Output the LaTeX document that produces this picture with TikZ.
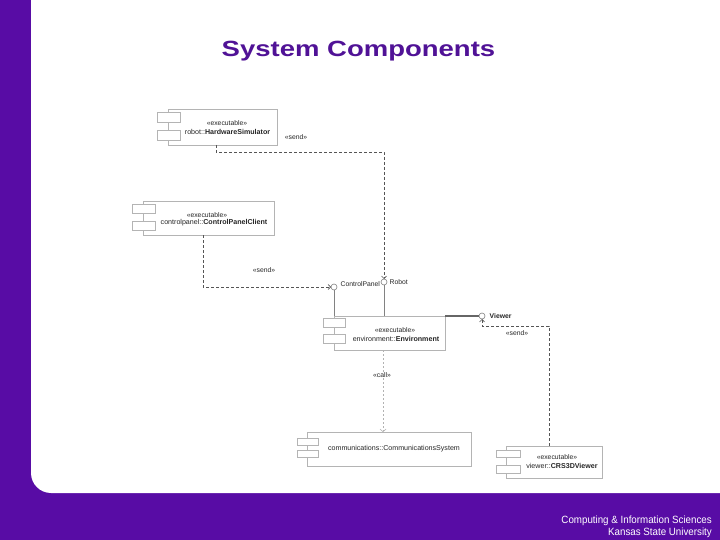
\documentclass[tikz,border=0pt]{standalone}
\usepackage{fontspec}
\setmainfont{Liberation Sans}
\usetikzlibrary{arrows.meta}
\definecolor{kpurple}{RGB}{88,12,165}
\definecolor{ktitle}{RGB}{80,18,150}
\definecolor{boxgray}{RGB}{180,180,180}
\definecolor{dashgray}{RGB}{85,85,85}
\definecolor{stickgray}{RGB}{130,130,130}
\begin{document}
\begin{tikzpicture}[x=1pt,y=-1pt,
  compbody/.style={draw=boxgray,line width=0.6pt,inner sep=0pt,outer sep=0pt,anchor=north west},
  comptab/.style={draw=boxgray,fill=white,line width=0.6pt,inner sep=0pt,outer sep=0pt,anchor=north west},
  stereo/.style={font=\fontsize{6.8}{7}\selectfont,text=black!85,inner sep=0pt},
  cname/.style={font=\fontsize{7.1}{7}\selectfont,text=black!85,inner sep=0pt},
  lbl/.style={font=\fontsize{6.8}{7}\selectfont,text=black!85,inner sep=0.5pt},
  iface/.style={circle,draw=stickgray,fill=white,line width=0.6pt,minimum size=6pt,inner sep=0pt,outer sep=0pt},
  stick/.style={draw=stickgray,line width=0.7pt},
  dep/.style={draw=dashgray,line width=0.6pt,dash pattern=on 3pt off 2pt,-{Straight Barb[length=2.5pt,width=5pt]}},
  calldep/.style={draw=black!30,line width=0.6pt,dash pattern=on 2pt off 2pt,-{Straight Barb[length=2.5pt,width=6pt]}},
  titlestyle/.style={font=\fontsize{22}{26}\selectfont\bfseries,text=ktitle,inner sep=0pt,anchor=base},
  footstyle/.style={font=\fontsize{10.5}{12}\selectfont,text=white,inner sep=0pt,anchor=base east}
]
\useasboundingbox (0,0) rectangle (720,540);
% background frame
\fill[kpurple] (0,0) rectangle (720,540);
\fill[white] (720,0) -- (31,0) -- (31,473) .. controls (31,484) and (40,493) .. (51,493) -- (720,493) -- cycle;

% title and footer
\node[titlestyle] (title) at (358.5,57) {\scalebox{1.25}[1]{System Components}};
\node[footstyle] (foot1) at (712,523) {\scalebox{0.93}[1]{Computing \& Information Sciences}};
\node[footstyle] (foot2) at (712,535) {\scalebox{0.93}[1]{Kansas State University}};

% robot::HardwareSimulator
\node[compbody,minimum width=109pt,minimum height=36pt] (hw) at (168,109) {};
\node[comptab,minimum width=23pt,minimum height=10pt] (hwt1) at (157,112) {};
\node[comptab,minimum width=23pt,minimum height=10pt] (hwt2) at (157,130) {};
\node[stereo] (hwst) at (227,123) {«executable»};
\node[cname] (hwnm) at (227.5,132) {robot::\textbf{HardwareSimulator}};

% controlpanel::ControlPanelClient
\node[compbody,minimum width=131pt,minimum height=34pt] (cp) at (143,201) {};
\node[comptab,minimum width=23pt,minimum height=9pt] (cpt1) at (132,204) {};
\node[comptab,minimum width=23pt,minimum height=9pt] (cpt2) at (132,221) {};
\node[stereo] (cpst) at (207,215) {«executable»};
\node[cname] (cpnm) at (214,223) {controlpanel::\textbf{ControlPanelClient}};

% environment::Environment
\node[compbody,minimum width=111pt,minimum height=34pt] (env) at (334,316) {};
\node[comptab,minimum width=22pt,minimum height=9pt] (envt1) at (323,318) {};
\node[comptab,minimum width=22pt,minimum height=9pt] (envt2) at (323,334) {};
\node[stereo] (envst) at (395,330) {«executable»};
\node[cname] (envnm) at (396,339) {environment::\textbf{Environment}};

% communications::CommunicationsSystem
\node[compbody,minimum width=164pt,minimum height=34pt] (comm) at (307,432) {};
\node[comptab,minimum width=21pt,minimum height=7pt] (commt1) at (297,438) {};
\node[comptab,minimum width=21pt,minimum height=7pt] (commt2) at (297,450) {};
\node[cname] (commnm) at (394,449) {communications::CommunicationsSystem};

% viewer::CRS3DViewer
\node[compbody,minimum width=96pt,minimum height=32pt] (view) at (506,446) {};
\node[comptab,minimum width=24pt,minimum height=7pt] (viewt1) at (496,450) {};
\node[comptab,minimum width=24pt,minimum height=8pt] (viewt2) at (496,465) {};
\node[stereo] (viewst) at (557,457) {«executable»};
\node[cname] (viewnm) at (562,466) {viewer::\textbf{CRS3DViewer}};

% interfaces
\node[iface] (ifcp) at (334,287) {};
\node[iface] (ifrobot) at (384,282) {};
\node[iface] (ifview) at (482,316) {};
\draw[stick] (ifcp.south) -- (ifcp.south |- env.north);
\draw[stick] (ifrobot.south) -- (ifrobot.south |- env.north);
\draw[draw=black!60,line width=1.1pt] (env.north east) -- (ifview.west);
\node[lbl,anchor=west] (lcp) at (340,284) {ControlPanel};
\node[lbl,anchor=west] (lrobot) at (389,282) {Robot};
\node[lbl,anchor=west] (lview) at (489,316) {\textbf{Viewer}};

% dependencies
\coordinate (hwout) at (216,145);
\coordinate (hwbend) at (216,152);
\draw[dep] (hwout) -- (hwbend) -- (hwbend -| ifrobot) -- (ifrobot.north);
\node[lbl] (send1) at (296,137) {«send»};

\coordinate (cpout) at (203,235);
\draw[dep] (cpout) |- (ifcp.west);
\node[lbl] (send2) at (264,270) {«send»};

\coordinate (vout) at (549,446);
\coordinate (vbend) at (549,326);
\draw[dep] (vout) -- (vbend) -- (vbend -| ifview) -- (ifview.south);
\node[lbl] (send3) at (517,333) {«send»};

\coordinate (envout) at (383,350);
\draw[calldep] (envout) -- (envout |- comm.north);
\node[lbl,fill=white] (call) at (382,375) {«call»};
\end{tikzpicture}
\end{document}
